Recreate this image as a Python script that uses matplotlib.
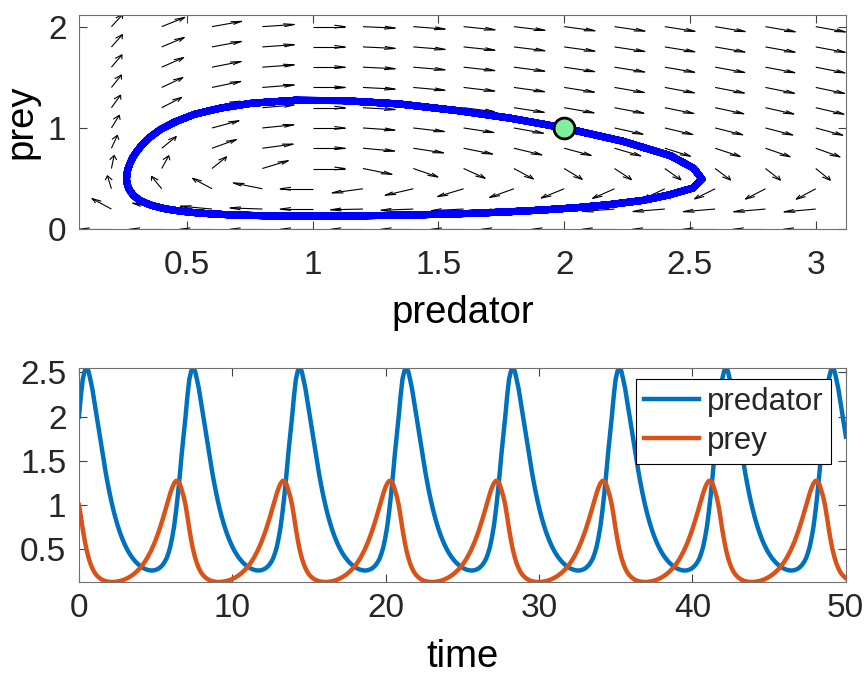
import numpy as np
import matplotlib.pyplot as plt
from matplotlib.collections import LineCollection

plt.rcParams['font.family'] = ['Liberation Sans', 'DejaVu Sans']
plt.rcParams['text.color'] = '#262626'

# predator / prey values, equal steps of period/56
period = 6.95
predator = [
    2.000, 2.233, 2.422, 2.515, 2.548, 2.513, 2.418, 2.315, 2.180, 2.048, 1.910, 1.773, 1.640, 1.503,
    1.374, 1.255, 1.145, 1.044, 0.952, 0.868, 0.793, 0.724, 0.662, 0.607, 0.557, 0.512, 0.472, 0.437,
    0.405, 0.378, 0.353, 0.333, 0.314, 0.299, 0.286, 0.276, 0.268, 0.263, 0.260, 0.261, 0.265, 0.273,
    0.284, 0.302, 0.324, 0.356, 0.396, 0.456, 0.530, 0.635, 0.760, 0.928, 1.120, 1.340, 1.580, 1.785,
    2.000, 2.233, 2.422, 2.515, 2.548, 2.513, 2.418, 2.315, 2.180, 2.048, 1.910, 1.773, 1.640, 1.503,
    1.374, 1.255, 1.145, 1.044, 0.952, 0.868, 0.793, 0.724, 0.662, 0.607, 0.557, 0.512, 0.472, 0.437,
    0.405, 0.378, 0.353, 0.333, 0.314, 0.299, 0.286, 0.276, 0.268, 0.263, 0.260, 0.261, 0.265, 0.273,
    0.284, 0.302, 0.324, 0.356, 0.396, 0.456, 0.530, 0.635, 0.760, 0.928, 1.120, 1.340, 1.580, 1.785,
    2.000, 2.233, 2.422, 2.515, 2.548, 2.513, 2.418, 2.315, 2.180, 2.048, 1.910, 1.773, 1.640, 1.503,
    1.374, 1.255, 1.145, 1.044, 0.952, 0.868, 0.793, 0.724, 0.662, 0.607, 0.557, 0.512, 0.472, 0.437,
    0.405, 0.378, 0.353, 0.333, 0.314, 0.299, 0.286, 0.276, 0.268, 0.263, 0.260, 0.261, 0.265, 0.273,
    0.284, 0.302, 0.324, 0.356, 0.396, 0.456, 0.530, 0.635, 0.760, 0.928, 1.120, 1.340, 1.580, 1.785,
    2.000, 2.233, 2.422, 2.515, 2.548, 2.513, 2.418, 2.315, 2.180, 2.048, 1.910, 1.773, 1.640, 1.503,
    1.374, 1.255, 1.145, 1.044, 0.952, 0.868, 0.793, 0.724, 0.662, 0.607, 0.557, 0.512, 0.472, 0.437,
    0.405, 0.378, 0.353, 0.333, 0.314, 0.299, 0.286, 0.276, 0.268, 0.263, 0.260, 0.261, 0.265, 0.273,
    0.284, 0.302, 0.324, 0.356, 0.396, 0.456, 0.530, 0.635, 0.760, 0.928, 1.120, 1.340, 1.580, 1.785,
    2.000, 2.233, 2.422, 2.515, 2.548, 2.513, 2.418, 2.315, 2.180, 2.048, 1.910, 1.773, 1.640, 1.503,
    1.374, 1.255, 1.145, 1.044, 0.952, 0.868, 0.793, 0.724, 0.662, 0.607, 0.557, 0.512, 0.472, 0.437,
    0.405, 0.378, 0.353, 0.333, 0.314, 0.299, 0.286, 0.276, 0.268, 0.263, 0.260, 0.261, 0.265, 0.273,
    0.284, 0.302, 0.324, 0.356, 0.396, 0.456, 0.530, 0.635, 0.760, 0.928, 1.120, 1.340, 1.580, 1.785,
    2.000, 2.233, 2.422, 2.515, 2.548, 2.513, 2.418, 2.315, 2.180, 2.048, 1.910, 1.773, 1.640, 1.503,
    1.374, 1.255, 1.145, 1.044, 0.952, 0.868, 0.793, 0.724, 0.662, 0.607, 0.557, 0.512, 0.472, 0.437,
    0.405, 0.378, 0.353, 0.333, 0.314, 0.299, 0.286, 0.276, 0.268, 0.263, 0.260, 0.261, 0.265, 0.273,
    0.284, 0.302, 0.324, 0.356, 0.396, 0.456, 0.530, 0.635, 0.760, 0.928, 1.120, 1.340, 1.580, 1.785,
    2.000, 2.233, 2.422, 2.515, 2.548, 2.513, 2.418, 2.315, 2.180, 2.048, 1.910, 1.773, 1.640, 1.503,
    1.374, 1.255, 1.145, 1.044, 0.952, 0.868, 0.793, 0.724, 0.662, 0.607, 0.557, 0.512, 0.472, 0.437,
    0.405, 0.378, 0.353, 0.333, 0.314, 0.299, 0.286, 0.276, 0.268, 0.263, 0.260, 0.261, 0.265, 0.273,
    0.284, 0.302, 0.324, 0.356, 0.396, 0.456, 0.530, 0.635, 0.760, 0.928, 1.120, 1.340, 1.580, 1.785,
    2.000, 2.233, 2.422, 2.515, 2.548, 2.513, 2.418, 2.315, 2.180, 2.048, 1.910, 1.773,
]
prey = [
    1.000, 0.869, 0.727, 0.602, 0.494, 0.408, 0.340, 0.286, 0.244, 0.213, 0.190, 0.172, 0.158, 0.148,
    0.140, 0.136, 0.132, 0.131, 0.130, 0.132, 0.135, 0.139, 0.144, 0.151, 0.159, 0.169, 0.180, 0.193,
    0.207, 0.224, 0.242, 0.263, 0.285, 0.311, 0.340, 0.372, 0.407, 0.447, 0.489, 0.537, 0.588, 0.645,
    0.705, 0.772, 0.840, 0.914, 0.987, 1.063, 1.135, 1.197, 1.245, 1.273, 1.270, 1.238, 1.170, 1.097,
    1.000, 0.869, 0.727, 0.602, 0.494, 0.408, 0.340, 0.286, 0.244, 0.213, 0.190, 0.172, 0.158, 0.148,
    0.140, 0.136, 0.132, 0.131, 0.130, 0.132, 0.135, 0.139, 0.144, 0.151, 0.159, 0.169, 0.180, 0.193,
    0.207, 0.224, 0.242, 0.263, 0.285, 0.311, 0.340, 0.372, 0.407, 0.447, 0.489, 0.537, 0.588, 0.645,
    0.705, 0.772, 0.840, 0.914, 0.987, 1.063, 1.135, 1.197, 1.245, 1.273, 1.270, 1.238, 1.170, 1.097,
    1.000, 0.869, 0.727, 0.602, 0.494, 0.408, 0.340, 0.286, 0.244, 0.213, 0.190, 0.172, 0.158, 0.148,
    0.140, 0.136, 0.132, 0.131, 0.130, 0.132, 0.135, 0.139, 0.144, 0.151, 0.159, 0.169, 0.180, 0.193,
    0.207, 0.224, 0.242, 0.263, 0.285, 0.311, 0.340, 0.372, 0.407, 0.447, 0.489, 0.537, 0.588, 0.645,
    0.705, 0.772, 0.840, 0.914, 0.987, 1.063, 1.135, 1.197, 1.245, 1.273, 1.270, 1.238, 1.170, 1.097,
    1.000, 0.869, 0.727, 0.602, 0.494, 0.408, 0.340, 0.286, 0.244, 0.213, 0.190, 0.172, 0.158, 0.148,
    0.140, 0.136, 0.132, 0.131, 0.130, 0.132, 0.135, 0.139, 0.144, 0.151, 0.159, 0.169, 0.180, 0.193,
    0.207, 0.224, 0.242, 0.263, 0.285, 0.311, 0.340, 0.372, 0.407, 0.447, 0.489, 0.537, 0.588, 0.645,
    0.705, 0.772, 0.840, 0.914, 0.987, 1.063, 1.135, 1.197, 1.245, 1.273, 1.270, 1.238, 1.170, 1.097,
    1.000, 0.869, 0.727, 0.602, 0.494, 0.408, 0.340, 0.286, 0.244, 0.213, 0.190, 0.172, 0.158, 0.148,
    0.140, 0.136, 0.132, 0.131, 0.130, 0.132, 0.135, 0.139, 0.144, 0.151, 0.159, 0.169, 0.180, 0.193,
    0.207, 0.224, 0.242, 0.263, 0.285, 0.311, 0.340, 0.372, 0.407, 0.447, 0.489, 0.537, 0.588, 0.645,
    0.705, 0.772, 0.840, 0.914, 0.987, 1.063, 1.135, 1.197, 1.245, 1.273, 1.270, 1.238, 1.170, 1.097,
    1.000, 0.869, 0.727, 0.602, 0.494, 0.408, 0.340, 0.286, 0.244, 0.213, 0.190, 0.172, 0.158, 0.148,
    0.140, 0.136, 0.132, 0.131, 0.130, 0.132, 0.135, 0.139, 0.144, 0.151, 0.159, 0.169, 0.180, 0.193,
    0.207, 0.224, 0.242, 0.263, 0.285, 0.311, 0.340, 0.372, 0.407, 0.447, 0.489, 0.537, 0.588, 0.645,
    0.705, 0.772, 0.840, 0.914, 0.987, 1.063, 1.135, 1.197, 1.245, 1.273, 1.270, 1.238, 1.170, 1.097,
    1.000, 0.869, 0.727, 0.602, 0.494, 0.408, 0.340, 0.286, 0.244, 0.213, 0.190, 0.172, 0.158, 0.148,
    0.140, 0.136, 0.132, 0.131, 0.130, 0.132, 0.135, 0.139, 0.144, 0.151, 0.159, 0.169, 0.180, 0.193,
    0.207, 0.224, 0.242, 0.263, 0.285, 0.311, 0.340, 0.372, 0.407, 0.447, 0.489, 0.537, 0.588, 0.645,
    0.705, 0.772, 0.840, 0.914, 0.987, 1.063, 1.135, 1.197, 1.245, 1.273, 1.270, 1.238, 1.170, 1.097,
    1.000, 0.869, 0.727, 0.602, 0.494, 0.408, 0.340, 0.286, 0.244, 0.213, 0.190, 0.172,
]
time = np.arange(len(predator)) * period / 56

# direction field grid, rates of the predator-prey model (equilibrium at 1, 0.5)
pred_grid = np.linspace(0.2, 3.0, 15)
prey_grid = np.linspace(0.0, 2.0, 11)
arrow_len = 0.129

P, Q = np.meshgrid(pred_grid, prey_grid)
dP = P * (2 * Q - 1)
dQ = Q * (1 - P)
n = np.hypot(dP, dQ)
u = (dP / n * arrow_len).ravel()
v = (dQ / n * arrow_len).ravel()
x0 = P.ravel()
y0 = Q.ravel()

# matlab style open arrow heads
a, b = 0.33, 0.33
segs = []
for xi, yi, ui, vi in zip(x0, y0, u, v):
    tx, ty = xi + ui, yi + vi
    segs.append([(xi, yi), (tx, ty)])
    segs.append([(tx - a * (ui + b * vi), ty - a * (vi - b * ui)), (tx, ty),
                 (tx - a * (ui - b * vi), ty - a * (vi + b * ui))])

fig = plt.figure(figsize=(8.64, 6.77), dpi=100)
ax1 = fig.add_axes([0.0914, 0.6613, 0.8874, 0.317])
ax2 = fig.add_axes([0.0914, 0.1408, 0.8874, 0.3152])

ax1.add_collection(LineCollection(segs, colors='k', linewidths=0.8))
ax1.plot(predator, prey, color=(0, 0, 1), lw=5, solid_joinstyle='round')
ax1.plot(predator[0], prey[0], 'o', ms=15, mfc='#80F0A0', mec='k', mew=2)
ax1.set_xlim(0.071, 3.119)
ax1.set_ylim(0, 2.118)
ax1.set_xticks([0.5, 1, 1.5, 2, 2.5, 3])
ax1.set_xticklabels(['0.5', '1', '1.5', '2', '2.5', '3'])
ax1.set_yticks([0, 1, 2])
ax1.set_xlabel('predator', fontsize=27.5, labelpad=10)
ax1.set_ylabel('prey', fontsize=27.5, labelpad=6)
ax1.tick_params(axis='x', pad=15)

ax2.plot(time, predator, color='#0072BD', lw=3.2, label='predator')
ax2.plot(time, prey, color='#D95319', lw=3.2, label='prey')
ax2.set_xlim(0, 50)
ax2.set_ylim(0.134, 2.545)
ax2.set_xticks([0, 10, 20, 30, 40, 50])
ax2.set_yticks([0.5, 1, 1.5, 2, 2.5])
ax2.set_yticklabels(['0.5', '1', '1.5', '2', '2.5'])
ax2.set_xlabel('time', fontsize=27.5, labelpad=11)
ax2.tick_params(axis='x', pad=8)
leg = ax2.legend(loc='upper right', bbox_to_anchor=(0.981, 0.95), borderaxespad=0,
                 fontsize=22.5, handlelength=1.75, handletextpad=0.25, labelspacing=0.3,
                 borderpad=0.25, fancybox=False, framealpha=1, edgecolor='k')
leg.get_frame().set_linewidth(0.8)

for ax in (ax1, ax2):
    ax.tick_params(direction='in', top=True, right=True, length=6, width=0.8,
                   labelsize=24, colors='#404040', labelcolor='#262626')
    ax.tick_params(axis='y', pad=9)
    for s in ax.spines.values():
        s.set_color('#707070')
        s.set_linewidth(0.8)

fig.savefig('out.png', dpi=100)
